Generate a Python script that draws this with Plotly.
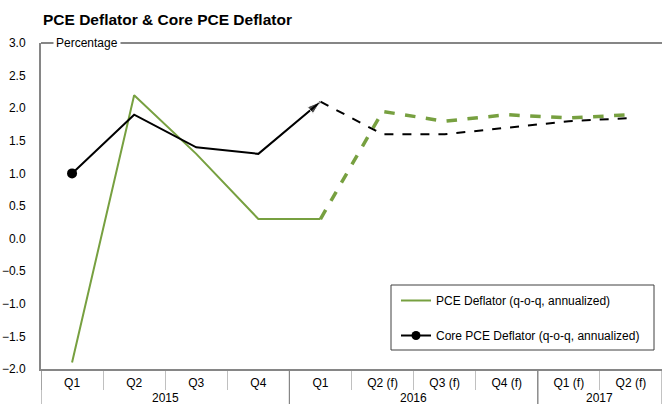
import plotly.graph_objects as go

quarters = ["Q1", "Q2", "Q3", "Q4", "Q1", "Q2 (f)", "Q3 (f)", "Q4 (f)", "Q1 (f)", "Q2 (f)"]
years = ["2015", "2015", "2015", "2015", "2016", "2016", "2016", "2016", "2017", "2017"]
pce = [-1.9, 2.2, 1.3, 0.3, 0.3, 1.95, 1.8, 1.9, 1.85, 1.9]
core = [1.0, 1.9, 1.4, 1.3, 2.1, 1.6, 1.6, 1.7, 1.8, 1.85]
split = 4  # index where the dashed (forecast) styling begins

GREEN = "#77a040"
BLACK = "#000000"
GRAY = "#868686"
FONT = "Liberation Sans, Arial, sans-serif"

W, H = 662, 404
ML, MT, MB = 41, 43, 35
PW, PH = W - ML, H - MT - MB

idx = list(range(len(quarters)))
n = split + 1

fig = go.Figure()

fig.add_trace(go.Scatter(
    x=idx[:n], y=pce[:n], mode="lines",
    line=dict(color=GREEN, width=2), name="PCE Deflator (q-o-q, annualized)",
    legendgroup="a", showlegend=True))
fig.add_trace(go.Scatter(
    x=idx[split:], y=pce[split:], mode="lines",
    line=dict(color=GREEN, width=3.5, dash="dash"), showlegend=False, legendgroup="a"))

fig.add_trace(go.Scatter(
    x=idx[split:], y=core[split:], mode="lines",
    line=dict(color=BLACK, width=2, dash="dash"), showlegend=False, legendgroup="b"))
fig.add_trace(go.Scatter(
    x=idx[:n], y=core[:n], mode="lines",
    line=dict(color=BLACK, width=2), showlegend=False, legendgroup="b"))
# start dot
fig.add_trace(go.Scatter(
    x=idx[:1], y=core[:1], mode="markers",
    marker=dict(symbol="circle", size=10, color=BLACK), showlegend=False, legendgroup="b"))
# arrow head at end of solid segment
fig.add_trace(go.Scatter(
    x=idx[split - 1:n], y=core[split - 1:n], mode="markers",
    marker=dict(symbol="arrow", size=[0, 14], color=BLACK, angleref="previous", standoff=0),
    showlegend=False, legendgroup="b"))
# legend entry for core
fig.add_trace(go.Scatter(
    x=[None], y=[None], mode="lines+markers",
    line=dict(color=BLACK, width=2), marker=dict(symbol="circle", size=9, color=BLACK),
    name="Core PCE Deflator (q-o-q, annualized)", legendgroup="b", showlegend=True))

# year groups
groups = []
for i, yv in enumerate(years):
    if not groups or groups[-1][0] != yv:
        groups.append([yv, i, i])
    else:
        groups[-1][2] = i

def px_x(p):
    return (p - ML) / PW

def px_y(p):
    return (H - MB - p) / PH

shapes = [dict(type="line", xref="paper", yref="paper", x0=0, x1=1, y0=1, y1=1,
               line=dict(color=GRAY, width=2)),
          # legend frame
          dict(type="rect", xref="paper", yref="paper", x0=px_x(391), x1=px_x(654),
               y0=px_y(350), y1=px_y(285), line=dict(color="#404040", width=1),
               fillcolor="white", layer="above")]
for g in groups:
    for b in (g[1] - 0.5, g[2] + 0.5):
        shapes.append(dict(type="line", xref="x", yref="paper", x0=b, x1=b, y0=0, y1=-36 / PH,
                           line=dict(color=GRAY, width=1)))

annotations = [
    dict(text="<b>PCE Deflator & Core PCE Deflator</b>", xref="paper", yref="paper",
         x=0, y=px_y(20), xanchor="left", yanchor="middle", showarrow=False,
         font=dict(size=15.5)),
    dict(text="Percentage", xref="paper", yref="paper", x=px_x(53), y=1,
         xanchor="left", yanchor="middle", showarrow=False, bgcolor="white",
         borderpad=2, font=dict(size=12)),
]
for g in groups:
    annotations.append(dict(text=g[0], xref="x", yref="paper", x=(g[1] + g[2]) / 2,
                            y=px_y(398), xanchor="center", yanchor="middle",
                            showarrow=False, font=dict(size=12)))

fig.update_layout(
    width=W, height=H,
    margin=dict(l=ML, r=0, t=MT, b=MB),
    paper_bgcolor="white", plot_bgcolor="white",
    font=dict(family=FONT, size=12, color="#000000"),
    showlegend=True,
    legend=dict(x=px_x(396), y=px_y(286), xanchor="left", yanchor="top",
                borderwidth=0, bgcolor="rgba(0,0,0,0)",
                font=dict(size=12, family=FONT), traceorder="grouped",
                tracegroupgap=16, itemwidth=30),
    xaxis=dict(range=[-0.5, len(quarters) - 0.5], tickvals=idx, ticktext=quarters,
               showline=True, linecolor=GRAY, linewidth=2, ticks="", ticklabelstandoff=2,
               minor=dict(tickvals=[i - 0.5 for i in idx] + [len(idx) - 0.5], ticks="outside",
                          ticklen=19, tickcolor="#c0c0c0", tickwidth=1, showgrid=False),
               showgrid=False, zeroline=False, tickfont=dict(size=12), automargin=False),
    yaxis=dict(range=[-2, 3], dtick=0.5, tickformat=".1f", showline=True, linecolor=GRAY,
               linewidth=2, showgrid=False, zeroline=False, ticks="", ticklabelstandoff=11,
               tickfont=dict(size=12), automargin=False),
    shapes=shapes,
    annotations=annotations,
)

fig.write_html("out.html", config={"displayModeBar": False},
               post_script="document.body.style.margin='0';")
